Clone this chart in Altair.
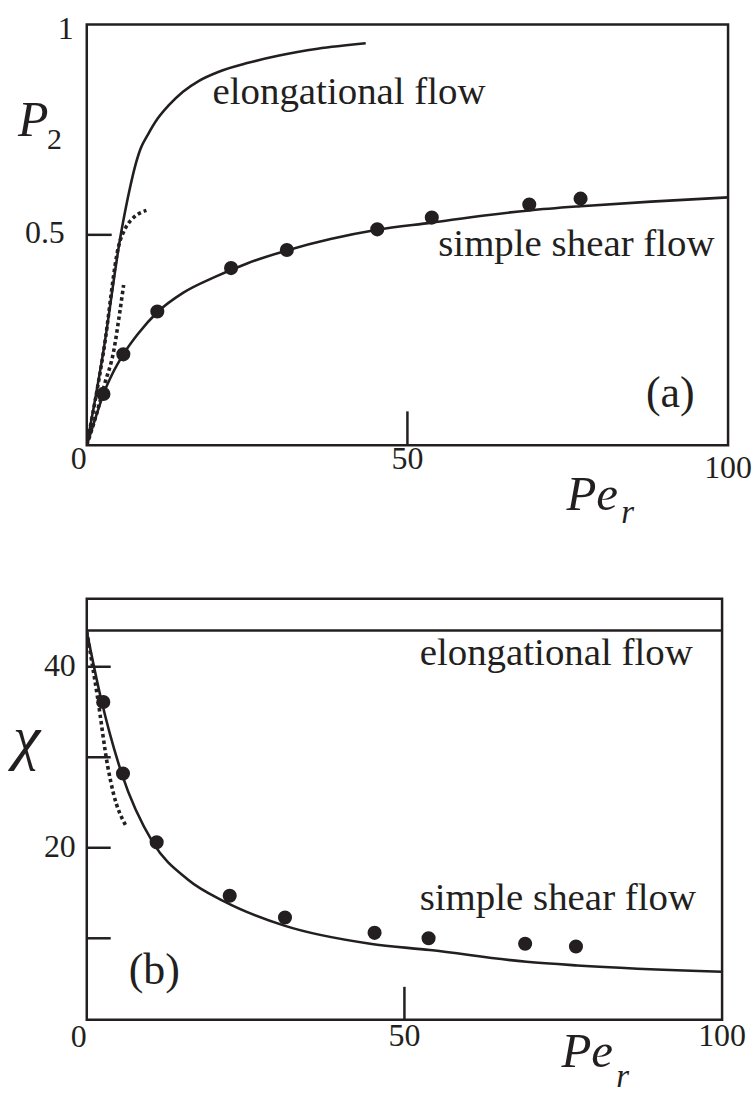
import altair as alt
import pandas as pd

INK = "#231f20"
FONT = "'Liberation Serif', 'Times New Roman', Tinos, 'DejaVu Serif', 'Noto Serif', serif"

# Simulation points (same Pe_r values in both panels)
pe_sim = [2.6, 5.7, 11.0, 22.5, 31.2, 45.3, 53.8, 69.0, 77.0]
p2_sim = [0.122, 0.216, 0.318, 0.421, 0.464, 0.513, 0.541, 0.572, 0.586]
chi_sim = [36.1, 28.2, 20.6, 14.7, 12.3, 10.6, 10.0, 9.4, 9.1]

# (a) order parameter P2: theory curves
pe_shear_a = [0, 1.3, 2.6, 4.0, 5.7, 8.0, 11.0, 15.0, 20.0, 25.0, 31.2, 38.0,
              45.3, 53.8, 62.0, 69.0, 77.0, 88.0, 100.0]
p2_shear = [0, 0.062, 0.122, 0.170, 0.216, 0.265, 0.316, 0.362, 0.400, 0.432,
            0.463, 0.490, 0.512, 0.529, 0.546, 0.558, 0.568, 0.579, 0.589]
pe_elong_a = [0, 2.6, 5.3, 6.8, 7.4, 8.4, 9.6, 11.0, 12.8, 15.0, 17.5, 20.5,
              25.0, 30.0, 36.0, 43.5]
p2_elong = [0, 0.224, 0.50, 0.616, 0.655, 0.705, 0.74, 0.775, 0.808, 0.84,
            0.866, 0.887, 0.908, 0.926, 0.942, 0.955]
# low-Pe asymptotes (dotted)
pe_elong_low = [0, 2.6, 5.0, 6.1, 7.3, 9.3]
p2_elong_low = [0, 0.221, 0.475, 0.518, 0.541, 0.558]
pe_shear_low_a = [0, 1.4, 2.8, 4.2, 5.1, 5.75]
p2_shear_low = [0, 0.068, 0.146, 0.224, 0.311, 0.381]

# (b) orientation angle chi: theory curves
pe_shear_b = [0, 2.2, 5.5, 10.4, 15.9, 21.7, 31.1, 44.6, 54.0, 69.2, 77.2, 100.0]
chi_shear = [43.9, 36.6, 28.2, 20.6, 16.5, 14.05, 11.4, 9.4, 8.7, 7.4, 7.0, 6.3]
pe_elong_b = [0, 100]
chi_elong = [44.0, 44.0]
pe_shear_low_b = [0, 1.7, 3.3, 4.2, 6.1]
chi_shear_low = [43.9, 36.6, 29.0, 26.0, 22.5]

# axis ticks and tick labels
pe_ticks = [50]
p2_ticks = [0.5]
chi_ticks = [10, 20, 30, 40]
pe_labels = [0, 50, 100]
p2_labels = [0.5, 1]
chi_labels = [20, 40]

W_A, H_A = 643, 422
W_B, H_B = 637, 422

xs_a = alt.Scale(domain=[0, 100], nice=False, zero=False)
ys_a = alt.Scale(domain=[0, 1], nice=False, zero=False)
xs_b = alt.Scale(domain=[0, 100], nice=False, zero=False)
ys_b = alt.Scale(domain=[1, 47.5], nice=False, zero=False)

one = pd.DataFrame({"k": [0]})


def frame(xv, yv):
    return pd.DataFrame({"pe": xv, "val": yv})


def curve(xv, yv, xs, ys, dotted=False):
    style = dict(color=INK, strokeWidth=2.6, interpolate="monotone", clip=True)
    if dotted:
        style.update(strokeDash=[3.5, 3], strokeWidth=3.6, strokeCap="butt")
    return alt.Chart(frame(xv, yv)).mark_line(**style).encode(
        x=alt.X("pe:Q", scale=xs, axis=None),
        y=alt.Y("val:Q", scale=ys, axis=None),
    )


def dots(xv, yv, xs, ys):
    return alt.Chart(frame(xv, yv)).mark_circle(size=200, color=INK, opacity=1).encode(
        x=alt.X("pe:Q", scale=xs, axis=None),
        y=alt.Y("val:Q", scale=ys, axis=None),
    )


def vtick(vals, xs, h, length):
    return alt.Chart(pd.DataFrame({"pe": vals})).mark_rule(color=INK, strokeWidth=2.5).encode(
        x=alt.X("pe:Q", scale=xs, axis=None), y=alt.value(h), y2=alt.value(h - length))


def htick(vals, ys, length):
    return alt.Chart(pd.DataFrame({"val": vals})).mark_rule(color=INK, strokeWidth=2.5).encode(
        y=alt.Y("val:Q", scale=ys, axis=None), x=alt.value(0), x2=alt.value(length))


def fmt(vals):
    return [f"{v:g}" for v in vals]


def xlabels(vals, xs, ypix, align="center"):
    df = pd.DataFrame({"pe": vals, "lab": fmt(vals)})
    return alt.Chart(df).mark_text(
        font=FONT, fontSize=32, color=INK, align=align, baseline="top"
    ).encode(x=alt.X("pe:Q", scale=xs, axis=None), y=alt.value(ypix), text="lab:N")


def ylabels(vals, ys, xpix, baseline="middle", dy=0):
    df = pd.DataFrame({"val": vals, "lab": fmt(vals)})
    return alt.Chart(df).mark_text(
        font=FONT, fontSize=32, color=INK, align="right", baseline=baseline, dy=dy
    ).encode(y=alt.Y("val:Q", scale=ys, axis=None), x=alt.value(xpix), text="lab:N")


def text(t, x, y, size, italic=False):
    return alt.Chart(one).mark_text(
        text=t, font=FONT, fontSize=size, color=INK, align="left",
        baseline="alphabetic", fontStyle="italic" if italic else "normal",
    ).encode(x=x, y=y)


def xd(v, xs):
    return alt.XDatum(v, scale=xs, axis=None)


def yd(v, ys):
    return alt.YDatum(v, scale=ys, axis=None)


# ---------------- panel (a) ----------------
panel_a = alt.layer(
    curve(pe_shear_a, p2_shear, xs_a, ys_a),
    curve(pe_elong_a, p2_elong, xs_a, ys_a),
    curve(pe_elong_low, p2_elong_low, xs_a, ys_a, dotted=True),
    curve(pe_shear_low_a, p2_shear_low, xs_a, ys_a, dotted=True),
    dots(pe_sim, p2_sim, xs_a, ys_a),
    htick(p2_ticks, ys_a, 25),
    vtick(pe_ticks, xs_a, H_A, 34),
    xlabels(pe_labels[:1], xs_a, H_A - 1, align="right"),
    xlabels(pe_labels[1:2], xs_a, H_A - 1),
    xlabels(pe_labels[2:], xs_a, H_A + 8),
    ylabels(p2_labels[:1], ys_a, -22, dy=-2),
    ylabels(p2_labels[1:], ys_a, -13, baseline="top", dy=-10),
    text("elongational flow", xd(19.6, xs_a), yd(0.81, ys_a), 39),
    text("simple shear flow", xd(54.8, xs_a), yd(0.45, ys_a), 39),
    text("(a)", xd(87.2, xs_a), yd(0.09, ys_a), 44),
    text("P", alt.value(-69), alt.value(112), 50, italic=True),
    text("2", alt.value(-40), alt.value(125), 30),
    text("Pe", alt.value(481), alt.value(487), 49, italic=True),
    text("r", alt.value(536), alt.value(500), 33, italic=True),
).properties(width=W_A, height=H_A)

# ---------------- panel (b) ----------------
panel_b = alt.layer(
    curve(pe_elong_b, chi_elong, xs_b, ys_b),
    curve(pe_shear_b, chi_shear, xs_b, ys_b),
    curve(pe_shear_low_b, chi_shear_low, xs_b, ys_b, dotted=True),
    dots(pe_sim, chi_sim, xs_b, ys_b),
    htick(chi_ticks, ys_b, 24),
    vtick(pe_ticks, xs_b, H_B, 33),
    xlabels(pe_labels[:1], xs_b, H_B + 2, align="right"),
    xlabels(pe_labels[1:], xs_b, H_B + 1),
    ylabels(chi_labels, ys_b, -11, dy=-1),
    text("elongational flow", xd(52.4, xs_b), yd(40.15, ys_b), 39),
    text("simple shear flow", xd(52.4, xs_b), yd(13.1, ys_b), 39),
    text("(b)", xd(6.6, xs_b), yd(5.0, ys_b), 44),
    text("χ", alt.value(-74), alt.value(160), 62, italic=True),
    text("Pe", alt.value(476), alt.value(469), 49, italic=True),
    text("r", alt.value(531), alt.value(489), 33, italic=True),
).properties(width=W_B, height=H_B)

chart = alt.vconcat(panel_a, panel_b, spacing=65).properties(
    padding={"left": 11, "top": 10, "right": 0, "bottom": 0},
    background="white",
).configure_view(stroke=INK, strokeWidth=2.5)

chart.save("out.html", embed_options={"renderer": "svg", "actions": False})
